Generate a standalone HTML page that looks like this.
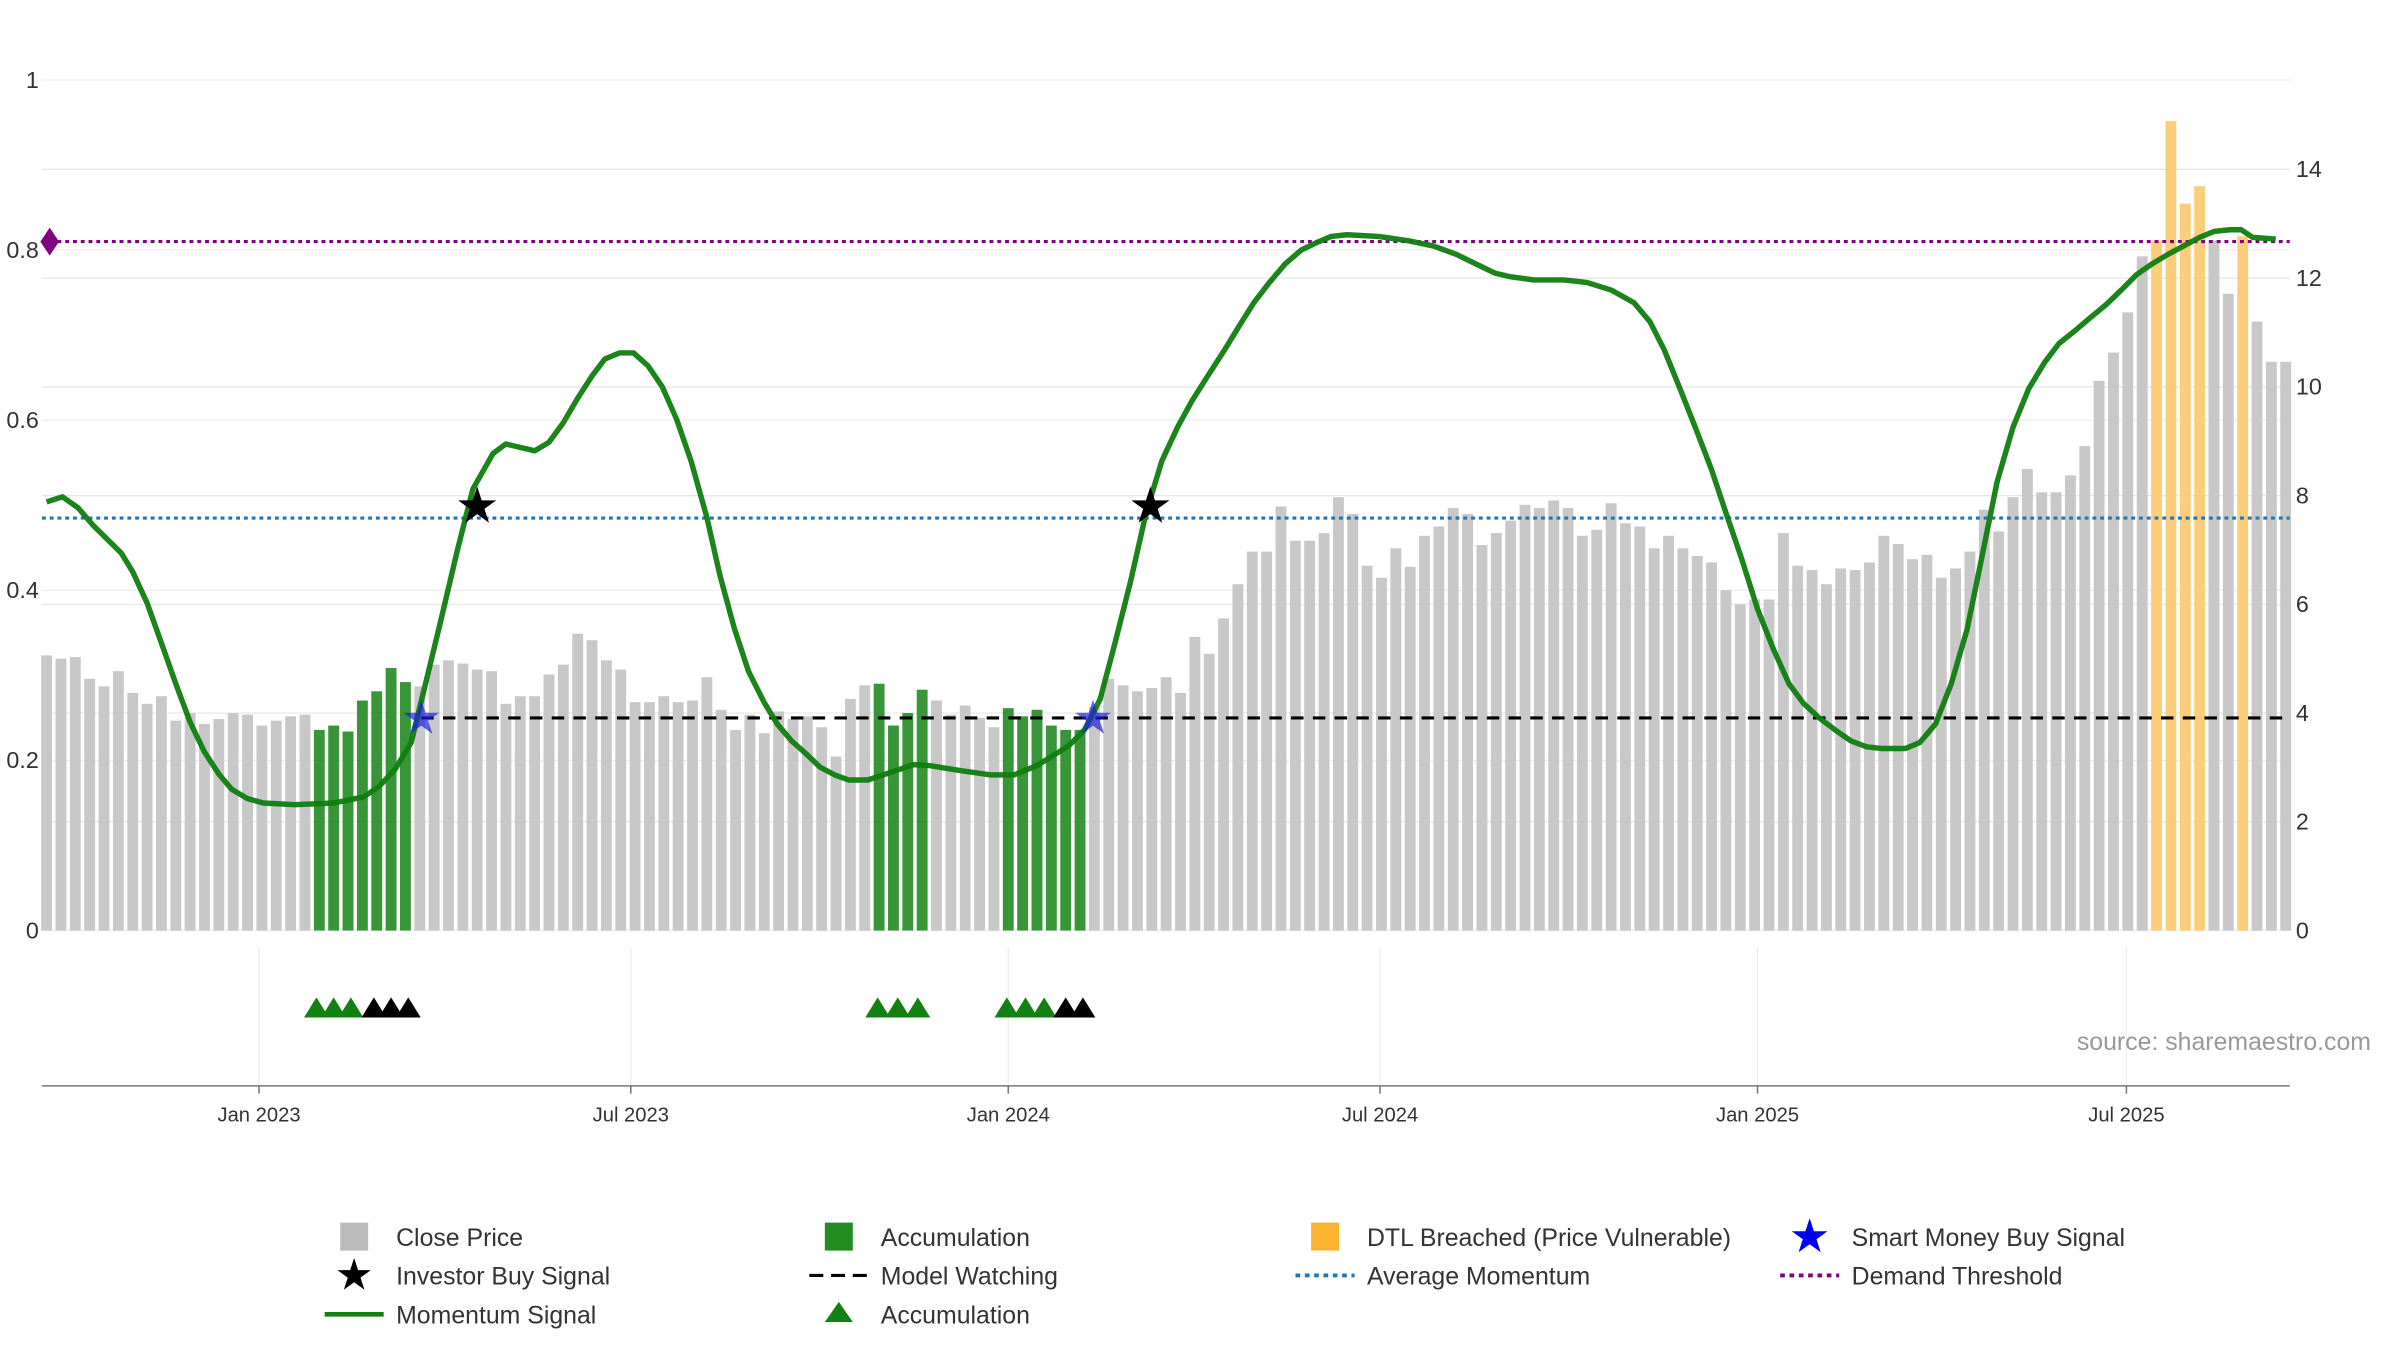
<!DOCTYPE html>
<html><head><meta charset="utf-8"><style>
html,body{margin:0;padding:0;background:#fff;}
svg{display:block;font-family:"Liberation Sans","DejaVu Sans",sans-serif;}
</style></head><body>
<svg id="chart" width="2400" height="1350" viewBox="0 0 1545 869" preserveAspectRatio="none" xmlns="http://www.w3.org/2000/svg">
<g id="grid"></g>
<g id="bars"></g>
<g id="lines"></g>
<g id="momentum"></g>
<g id="markers"></g>
<g id="axes"></g>
<text x="1337" y="676" font-size="16" fill="#999">source: sharemaestro.com</text>
<g id="legend" font-size="16" fill="#333">
 <g><rect x="219" y="787" width="18" height="18" fill="#bbb"/><text x="255" y="802">Close Price</text></g>
 <g><text x="228" y="830" font-size="28" text-anchor="middle" fill="#000">★</text><text x="255" y="827">Investor Buy Signal</text></g>
 <g><line x1="209" y1="846" x2="247" y2="846" stroke="#138013" stroke-width="3"/><text x="255" y="852">Momentum Signal</text></g>
 <g><rect x="531" y="787" width="18" height="18" fill="#228b22"/><text x="567" y="802">Accumulation</text></g>
 <g><line x1="521" y1="821" x2="559" y2="821" stroke="#000" stroke-width="2" stroke-dasharray="9,5"/><text x="567" y="827">Model Watching</text></g>
 <g><polygon points="531,851 540,838 549,851" fill="#138013"/><text x="567" y="852">Accumulation</text></g>
 <g><rect x="844" y="787" width="18" height="18" fill="#fbb32f"/><text x="880" y="802">DTL Breached (Price Vulnerable)</text></g>
 <g><line x1="834" y1="821" x2="872" y2="821" stroke="#1f77b4" stroke-width="2.5" stroke-dasharray="3,3"/><text x="880" y="827">Average Momentum</text></g>
 <g><text x="1165" y="806" font-size="30" text-anchor="middle" fill="#0000ee">★</text><text x="1192" y="802">Smart Money Buy Signal</text></g>
 <g><line x1="1146" y1="821" x2="1184" y2="821" stroke="#800080" stroke-width="2.5" stroke-dasharray="3,3"/><text x="1192" y="827">Demand Threshold</text></g>
</g>
</svg>
<script>
const prices=[5.06,5.0,5.03,4.63,4.49,4.77,4.37,4.17,4.31,3.86,4.0,3.8,3.89,4.0,3.97,3.77,3.86,3.94,3.97,3.69,3.77,3.66,4.23,4.4,4.83,4.57,4.49,4.89,4.97,4.91,4.8,4.77,4.17,4.31,4.31,4.71,4.89,5.46,5.34,4.97,4.8,4.2,4.2,4.31,4.2,4.23,4.66,4.06,3.69,3.97,3.63,4.03,3.89,3.94,3.74,3.2,4.26,4.51,4.54,3.77,4.0,4.43,4.23,3.97,4.14,3.91,3.74,4.09,3.94,4.06,3.77,3.69,3.69,4.11,4.63,4.51,4.4,4.46,4.66,4.37,5.4,5.09,5.74,6.37,6.97,6.97,7.8,7.17,7.17,7.31,7.97,7.66,6.71,6.49,7.03,6.69,7.26,7.43,7.77,7.66,7.09,7.31,7.54,7.83,7.77,7.91,7.77,7.26,7.37,7.86,7.49,7.43,7.03,7.26,7.03,6.89,6.77,6.26,6.0,6.09,6.09,7.31,6.71,6.63,6.37,6.66,6.63,6.77,7.26,7.11,6.83,6.91,6.49,6.66,6.97,7.74,7.34,7.97,8.49,8.06,8.06,8.37,8.91,10.11,10.63,11.37,12.4,12.69,14.89,13.37,13.69,12.69,11.71,12.77,11.2,10.46,10.46];
const accumWeeks=[19,20,21,22,23,24,25,58,59,60,61,67,68,69,70,71,72];
const dtlWeeks=[147,148,149,150,153];
const momWeeks=[0,1.1,2.2,3.2,5.2,6,7,8,9,10,11,12,12.9,14,15.1,17.3,20,22.1,23.2,24.3,25.4,26.4,27.5,28.6,29.7,31.1,32,34,35,36,37,38,38.9,39.9,40.9,41.9,42.9,43.9,44.9,46,46.9,47.9,48.9,50,50.9,51.9,52.9,53.9,54.9,55.9,57.2,58.8,60.4,61.5,63.7,65.8,67.4,69,71.2,72.3,73.4,74.4,75.5,76.6,77.7,78.8,79.8,80.9,82,83.1,84.1,85.2,86.3,87.4,88.5,89.5,90.6,92.8,94.9,96.6,98.2,99.8,100.9,101.9,103.6,105.7,107.3,109,110.6,111.7,112.7,113.8,114.9,116,117,118.1,119.2,120.3,121.4,122.4,123.5,124.6,125.7,126.8,127.8,129.5,130.5,131.6,132.7,133.8,134.8,135.9,137,138.1,139.2,140.2,141.3,142.4,143.5,144.6,145.6,146.7,147.8,148.9,150,151,152.1,152.9,153.7,155.3];
const momValues=[0.504,0.510,0.497,0.477,0.444,0.422,0.385,0.338,0.290,0.245,0.210,0.184,0.166,0.155,0.150,0.148,0.150,0.157,0.170,0.190,0.221,0.290,0.367,0.446,0.519,0.561,0.572,0.564,0.574,0.597,0.626,0.652,0.672,0.679,0.679,0.664,0.639,0.601,0.552,0.486,0.418,0.356,0.305,0.268,0.243,0.223,0.208,0.192,0.183,0.177,0.177,0.186,0.195,0.194,0.188,0.183,0.183,0.194,0.217,0.236,0.272,0.336,0.409,0.491,0.552,0.592,0.623,0.652,0.681,0.711,0.738,0.762,0.784,0.800,0.809,0.816,0.818,0.816,0.811,0.805,0.795,0.782,0.773,0.769,0.765,0.765,0.762,0.753,0.738,0.716,0.683,0.637,0.590,0.542,0.491,0.437,0.378,0.331,0.290,0.267,0.250,0.236,0.223,0.216,0.214,0.214,0.221,0.243,0.290,0.354,0.437,0.528,0.592,0.637,0.668,0.690,0.705,0.721,0.736,0.754,0.771,0.784,0.795,0.805,0.815,0.822,0.824,0.824,0.815,0.813];
const investorWeeks=[30,76.9];
const investorValues=[0.5,0.5];
const smartWeeks=[26.1,72.9];
const smartValues=[0.25,0.25];
const triGreenWeeks=[18.8,20,21.2,57.9,59.3,60.7,66.9,68.2,69.5];
const triBlackWeeks=[22.8,24,25.2,71,72.2];
const avgMomentum=0.485, demandThreshold=0.81, watchLevel=0.25, watchStartWeek=26.1;
const leftTicks=[0,0.2,0.4,0.6,0.8,1];
const rightTicks=[0,2,4,6,8,10,12,14];
const dateTickWeeks=[14.8,40.7,67,92.9,119.2,144.9];
const dateTickLabels=["Jan 2023","Jul 2023","Jan 2024","Jul 2024","Jan 2025","Jul 2025"];

const NS="http://www.w3.org/2000/svg";
const X0=27,X1=1474,Y0=599;
const xS=w=>30+w*9.24;
const yL=v=>Y0-v*547.5;
const yR=p=>Y0-p*35;
function mk(tag,attrs,parent){const e=document.createElementNS(NS,tag);for(const k in attrs)e.setAttribute(k,attrs[k]);parent.appendChild(e);return e;}
const G=id=>document.getElementById(id);

rightTicks.forEach(t=>{const l=mk('line',{x1:X0,x2:X1,y1:yR(t),y2:yR(t),stroke:'#e6e6e6','stroke-width':0.8},G('grid'));

});
leftTicks.forEach(t=>{const l=mk('line',{x1:X0,x2:X1,y1:yL(t),y2:yL(t),stroke:'#eeeeee','stroke-width':0.8},G('grid'));

});
dateTickWeeks.forEach(w=>{const l=mk('line',{x1:xS(w),x2:xS(w),y1:610,y2:699,stroke:'#ececec','stroke-width':0.8},G('grid'));

});

prices.forEach((p,i)=>{let c='#c8c8c8',o=1;
 if(accumWeeks.includes(i)){c='#228b22';o=0.9;} if(dtlWeeks.includes(i)){c='#fdc96b';o=0.9;}
 const r=mk('rect',{x:xS(i)-3.5,y:yR(p),width:7,height:Y0-yR(p),fill:c,'fill-opacity':o},G('bars'));
 
 });

let l=mk('line',{x1:X0,x2:X1,y1:yL(avgMomentum),y2:yL(avgMomentum),stroke:'#1f77b4','stroke-width':2,'stroke-dasharray':'2.5,2.5'},G('lines'));


l=mk('line',{x1:X0,x2:X1,y1:yL(demandThreshold),y2:yL(demandThreshold),stroke:'#800080','stroke-width':2,'stroke-dasharray':'2.5,2.5'},G('lines'));


const dy=yL(demandThreshold);
l=mk('polygon',{points:`26,${dy} 32,${dy-9} 38,${dy} 32,${dy+9}`,fill:'#800080'},G('lines'));


l=mk('line',{x1:xS(watchStartWeek),x2:X1,y1:yL(watchLevel),y2:yL(watchLevel),stroke:'#000','stroke-width':2,'stroke-dasharray':'8,6'},G('lines'));



let d=momWeeks.map((w,i)=>(i?'L':'M')+xS(w).toFixed(1)+','+yL(momValues[i]).toFixed(1)).join(' ');
l=mk('path',{d:d,fill:'none',stroke:'#0f7d0f','stroke-width':3.5,'stroke-linejoin':'round','stroke-opacity':0.95},G('momentum'));



investorWeeks.forEach((w,i)=>{const t=mk('text',{x:xS(w),y:yL(investorValues[i])+11,'font-size':32,'text-anchor':'middle',fill:'#000'},G('markers'));t.textContent='★';

});
smartWeeks.forEach((w,i)=>{const t=mk('text',{x:xS(w),y:yL(smartValues[i])+10,'font-size':30,'text-anchor':'middle',fill:'#2020dd','fill-opacity':0.7},G('markers'));t.textContent='★';

});
triGreenWeeks.forEach(w=>{const x=xS(w);const t=mk('polygon',{points:`${x-8},655 ${x},642 ${x+8},655`,fill:'#138013'},G('markers'));

});
triBlackWeeks.forEach(w=>{const x=xS(w);const t=mk('polygon',{points:`${x-8},655 ${x},642 ${x+8},655`,fill:'#000'},G('markers'));

});

l=mk('line',{x1:X0,x2:X1,y1:699,y2:699,stroke:'#777','stroke-width':1},G('axes'));


leftTicks.forEach(t=>{const e=mk('text',{x:25,y:yL(t)+5,'font-size':15,'text-anchor':'end',fill:'#333'},G('axes'));e.textContent=String(t);

});
rightTicks.forEach(t=>{const e=mk('text',{x:1478,y:yR(t)+5,'font-size':15,fill:'#333'},G('axes'));e.textContent=String(t);

});
dateTickWeeks.forEach((w,i)=>{const k=mk('line',{x1:xS(w),x2:xS(w),y1:699,y2:704,stroke:'#777'},G('axes'));


const e=mk('text',{x:xS(w),y:722,'font-size':13,'text-anchor':'middle',fill:'#333'},G('axes'));e.textContent=dateTickLabels[i];

});
</script>
</body></html>
